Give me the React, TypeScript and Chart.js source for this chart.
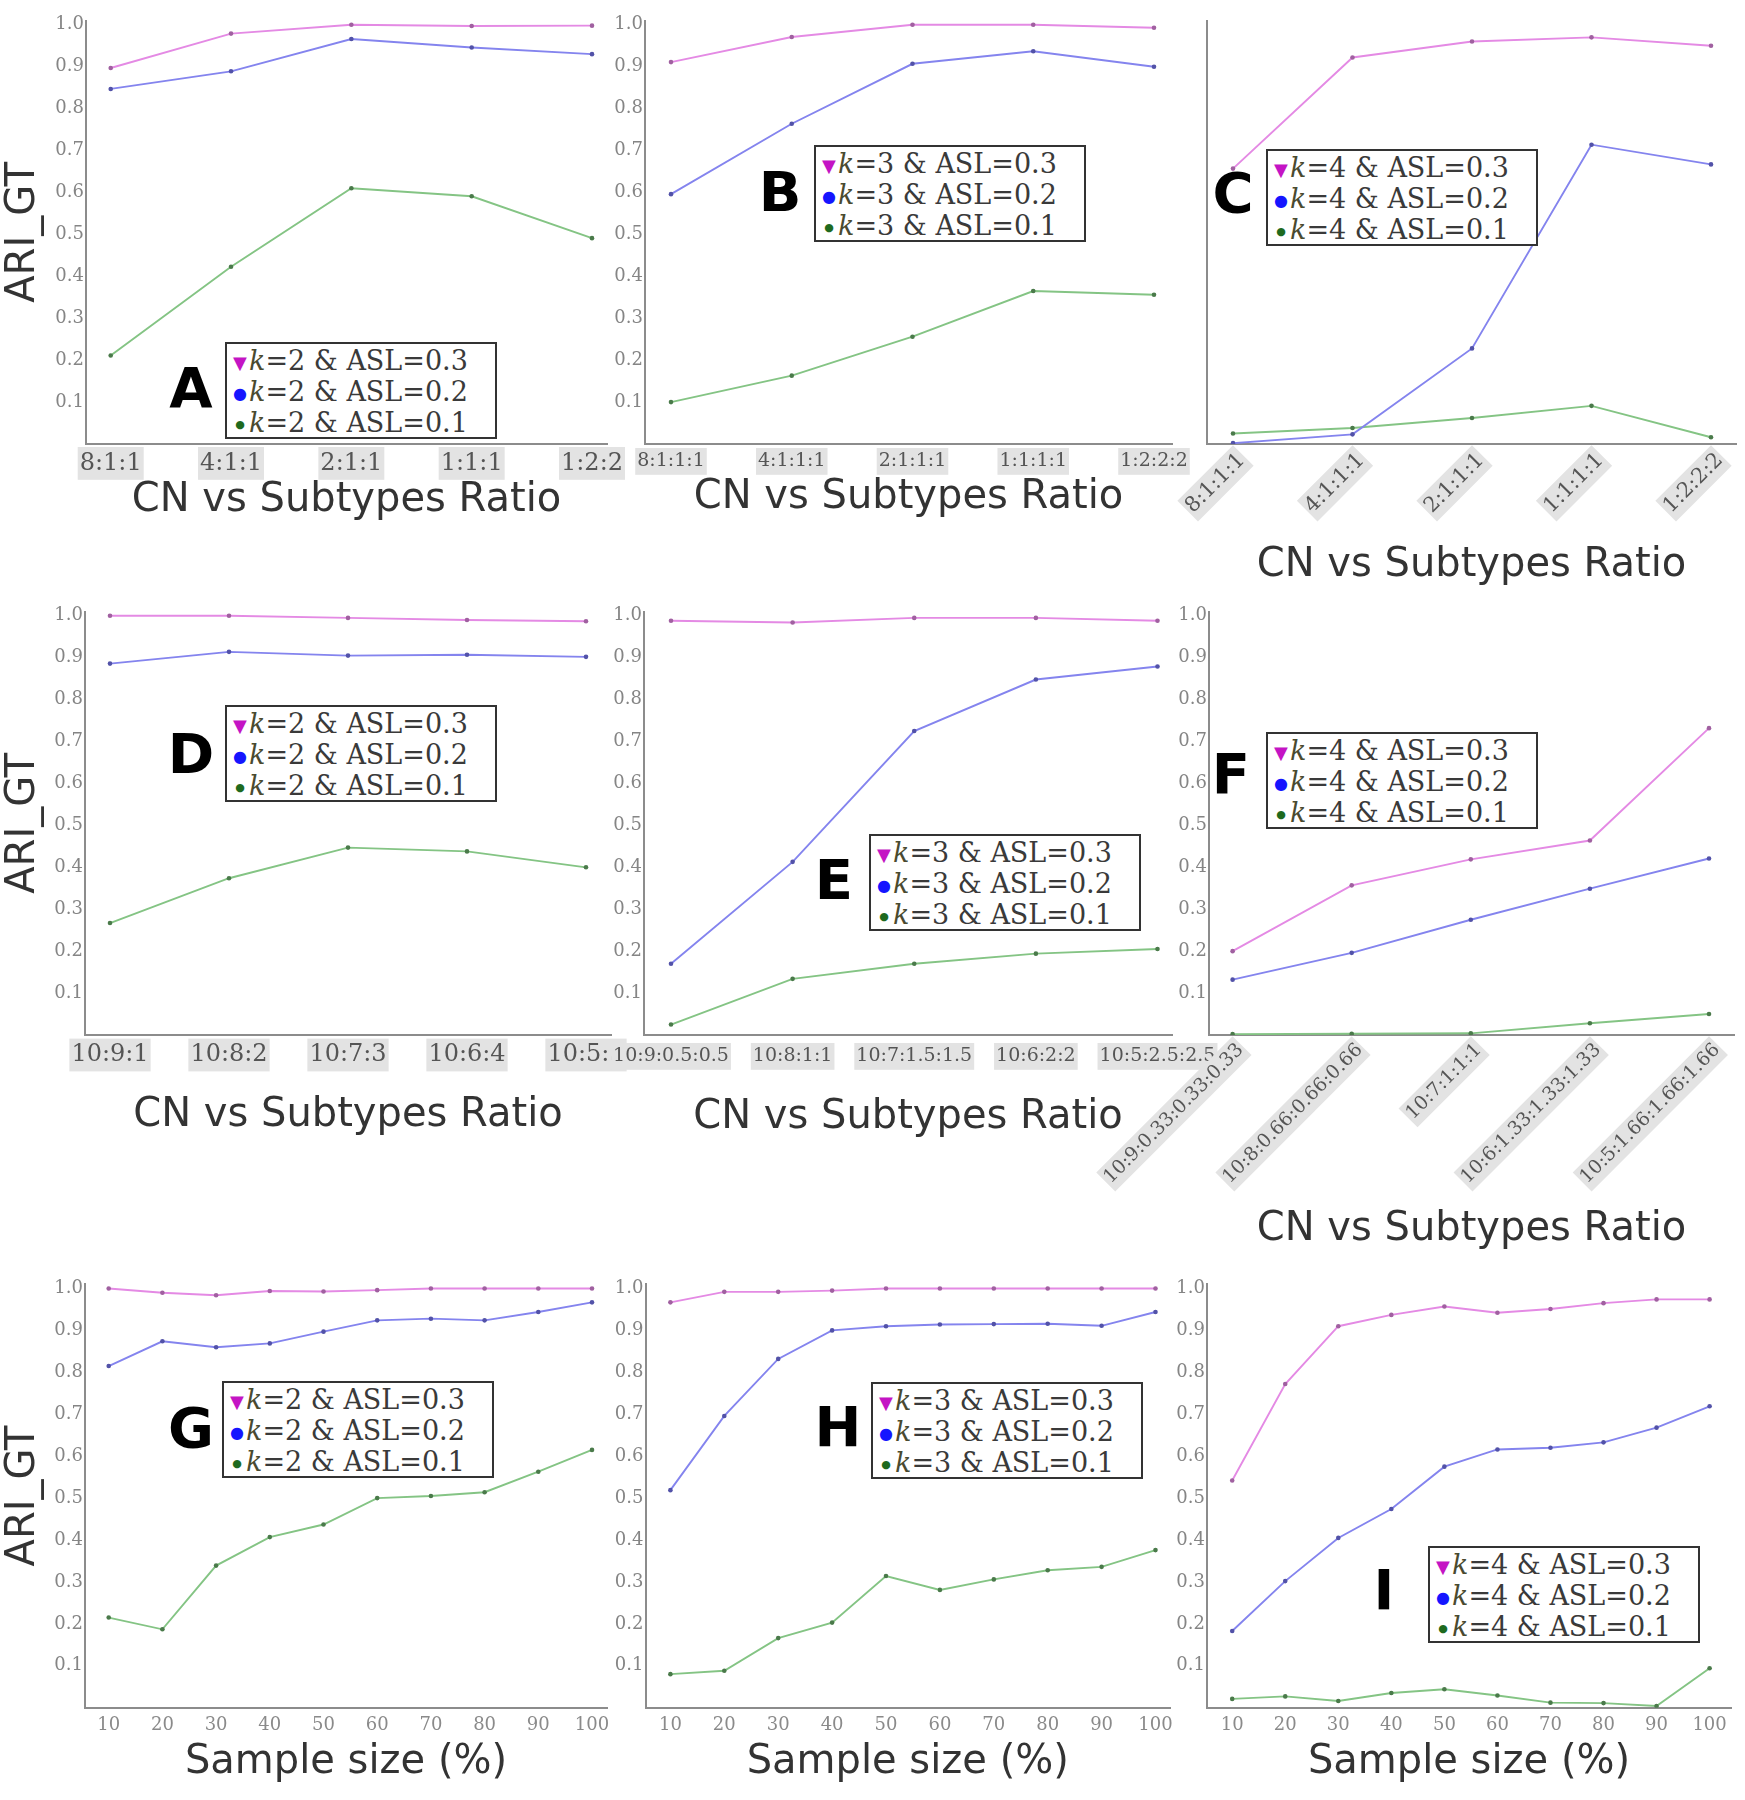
import React, { useEffect, useRef } from 'react';
import { Chart, registerables } from 'chart.js';

Chart.register(...registerables);

// ---------------- data ----------------
const ratioLabelsA = ['8:1:1', '4:1:1', '2:1:1', '1:1:1', '1:2:2'];
const ratioLabelsBC = ['8:1:1:1', '4:1:1:1', '2:1:1:1', '1:1:1:1', '1:2:2:2'];
const ratioLabelsD = ['10:9:1', '10:8:2', '10:7:3', '10:6:4', '10:5:5'];
const ratioLabelsE = ['10:9:0.5:0.5', '10:8:1:1', '10:7:1.5:1.5', '10:6:2:2', '10:5:2.5:2.5'];
const ratioLabelsF = ['10:9:0.33:0.33:0.33', '10:8:0.66:0.66:0.66', '10:7:1:1:1', '10:6:1.33:1.33:1.33', '10:5:1.66:1.66:1.66'];
const sampleSizes = [10, 20, 30, 40, 50, 60, 70, 80, 90, 100];
const yTickValues = [0.1, 0.2, 0.3, 0.4, 0.5, 0.6, 0.7, 0.8, 0.9, 1.0];
const aslLevels = ['0.3', '0.2', '0.1'];

const aAsl3 = [0.897, 0.979, 1.0, 0.997, 0.998];
const aAsl2 = [0.847, 0.889, 0.966, 0.946, 0.93];
const aAsl1 = [0.211, 0.423, 0.61, 0.591, 0.491];

const bAsl3 = [0.911, 0.971, 1.0, 1.0, 0.993];
const bAsl2 = [0.596, 0.764, 0.907, 0.937, 0.9];
const bAsl1 = [0.1, 0.163, 0.256, 0.365, 0.356];

const cAsl3 = [0.657, 0.922, 0.96, 0.97, 0.95];
const cAsl2 = [0.002, 0.023, 0.228, 0.714, 0.667];
const cAsl1 = [0.025, 0.038, 0.062, 0.091, 0.016];

const dAsl3 = [1.0, 1.0, 0.995, 0.99, 0.987];
const dAsl2 = [0.886, 0.914, 0.905, 0.907, 0.902];
const dAsl1 = [0.267, 0.374, 0.447, 0.438, 0.4];

const eAsl3 = [0.988, 0.984, 0.995, 0.995, 0.988];
const eAsl2 = [0.17, 0.413, 0.725, 0.848, 0.879];
const eAsl1 = [0.025, 0.134, 0.17, 0.194, 0.205];

const fAsl3 = [0.2, 0.357, 0.419, 0.464, 0.732];
const fAsl2 = [0.132, 0.196, 0.275, 0.349, 0.421];
const fAsl1 = [0.002, 0.003, 0.004, 0.028, 0.05];

const gAsl3 = [1.0, 0.99, 0.984, 0.994, 0.993, 0.996, 1.0, 1.0, 1.0, 1.0];
const gAsl2 = [0.815, 0.874, 0.86, 0.869, 0.897, 0.924, 0.928, 0.924, 0.944, 0.967];
const gAsl1 = [0.215, 0.187, 0.339, 0.407, 0.437, 0.5, 0.505, 0.514, 0.563, 0.615];

const hAsl3 = [0.967, 0.992, 0.992, 0.995, 1.0, 1.0, 1.0, 1.0, 1.0, 1.0];
const hAsl2 = [0.519, 0.696, 0.832, 0.9, 0.91, 0.914, 0.915, 0.916, 0.911, 0.944];
const hAsl1 = [0.08, 0.088, 0.166, 0.203, 0.314, 0.281, 0.306, 0.328, 0.336, 0.376];

const iAsl3 = [0.542, 0.772, 0.91, 0.937, 0.957, 0.942, 0.951, 0.965, 0.974, 0.974];
const iAsl2 = [0.183, 0.302, 0.405, 0.474, 0.575, 0.616, 0.62, 0.633, 0.668, 0.719];
const iAsl1 = [0.021, 0.027, 0.016, 0.035, 0.044, 0.029, 0.012, 0.011, 0.004, 0.094];

// ---------------- styles ----------------
const lineColors = ['#e48ae4', '#8484ee', '#84c484'];
const pointColors = ['#a060a0', '#5252a8', '#4a7a4a'];
const markerColors = ['#c414c4', '#1515ff', '#1e6a1e'];
const markerGlyphs = ['\u25BC', '\u25CF', '\u25CF'];
const markerSizes = [18, 16, 11];
const axisColor = '#8c8c8c';
const ratioTitle = 'CN vs Subtypes Ratio';
const sampleTitle = 'Sample size (%)';
const titleSize = 40;

type Panel = {
  letter: string;
  k: number;
  labels: string[] | null;
  series: number[][];
  box: { x: number; y: number; w: number; h: number };
  area: { left: number; right: number; top: number; bottom: number };
  firstPx: number;
  lastPx: number;
  tickFont: number;
  tickPad: number;
  rotate: number;
  backdrop: boolean;
  yTitle: boolean;
  yTicks: boolean;
  xTitle: string;
  letterPos: { x: number; y: number };
  legendPos: { x: number; y: number };
};

const panels: Panel[] = [
  {
    letter: 'A', k: 2, labels: ratioLabelsA, series: [aAsl3, aAsl2, aAsl1],
    box: { x: 0, y: 0, w: 640, h: 525 }, area: { left: 86, right: 607, top: 20.6, bottom: 444 },
    firstPx: 110.7, lastPx: 592, tickFont: 24, tickPad: 5, rotate: 0, backdrop: true,
    yTitle: true, yTicks: true, xTitle: ratioTitle,
    letterPos: { x: 191, y: 392 }, legendPos: { x: 225, y: 342 },
  },
  {
    letter: 'B', k: 3, labels: ratioLabelsBC, series: [bAsl3, bAsl2, bAsl1],
    box: { x: 560, y: 0, w: 642, h: 522 }, area: { left: 645, right: 1172, top: 20.6, bottom: 444 },
    firstPx: 671, lastPx: 1154, tickFont: 19, tickPad: 6, rotate: 0, backdrop: true,
    yTitle: false, yTicks: true, xTitle: ratioTitle,
    letterPos: { x: 780, y: 196 }, legendPos: { x: 814, y: 145 },
  },
  {
    letter: 'C', k: 4, labels: ratioLabelsBC, series: [cAsl3, cAsl2, cAsl1],
    box: { x: 1130, y: 0, w: 615, h: 590 }, area: { left: 1207, right: 1736, top: 20.6, bottom: 444 },
    firstPx: 1233, lastPx: 1711, tickFont: 21, tickPad: 4, rotate: 45, backdrop: true,
    yTitle: false, yTicks: false, xTitle: ratioTitle,
    letterPos: { x: 1233, y: 197 }, legendPos: { x: 1266, y: 149 },
  },
  {
    letter: 'D', k: 2, labels: ratioLabelsD, series: [dAsl3, dAsl2, dAsl1],
    box: { x: 0, y: 560, w: 644, h: 580 }, area: { left: 85, right: 611, top: 611.6, bottom: 1035 },
    firstPx: 110, lastPx: 586, tickFont: 24, tickPad: 5.6, rotate: 0, backdrop: true,
    yTitle: true, yTicks: true, xTitle: ratioTitle,
    letterPos: { x: 191, y: 758 }, legendPos: { x: 225, y: 705 },
  },
  {
    letter: 'E', k: 3, labels: ratioLabelsE, series: [eAsl3, eAsl2, eAsl1],
    box: { x: 580, y: 560, w: 667, h: 582 }, area: { left: 644, right: 1172, top: 611.6, bottom: 1035 },
    firstPx: 671, lastPx: 1157.5, tickFont: 19, tickPad: 10, rotate: 0, backdrop: true,
    yTitle: false, yTicks: true, xTitle: ratioTitle,
    letterPos: { x: 834, y: 884 }, legendPos: { x: 869, y: 834 },
  },
  {
    letter: 'F', k: 4, labels: ratioLabelsF, series: [fAsl3, fAsl2, fAsl1],
    box: { x: 1060, y: 560, w: 685, h: 694 }, area: { left: 1209, right: 1734, top: 611.6, bottom: 1035 },
    firstPx: 1232.6, lastPx: 1709, tickFont: 19, tickPad: 4, rotate: 45, backdrop: true,
    yTitle: false, yTicks: true, xTitle: ratioTitle,
    letterPos: { x: 1231, y: 778 }, legendPos: { x: 1266, y: 732 },
  },
  {
    letter: 'G', k: 2, labels: null, series: [gAsl3, gAsl2, gAsl1],
    box: { x: 0, y: 1240, w: 640, h: 547 }, area: { left: 85, right: 607, top: 1284.3, bottom: 1707.7 },
    firstPx: 108.7, lastPx: 592, tickFont: 18, tickPad: 6.5, rotate: 0, backdrop: false,
    yTitle: true, yTicks: true, xTitle: sampleTitle,
    letterPos: { x: 191, y: 1432 }, legendPos: { x: 222, y: 1381 },
  },
  {
    letter: 'H', k: 3, labels: null, series: [hAsl3, hAsl2, hAsl1],
    box: { x: 560, y: 1240, w: 640, h: 547 }, area: { left: 645.5, right: 1170, top: 1284.3, bottom: 1707.7 },
    firstPx: 670.4, lastPx: 1155.5, tickFont: 18, tickPad: 6.5, rotate: 0, backdrop: false,
    yTitle: false, yTicks: true, xTitle: sampleTitle,
    letterPos: { x: 838, y: 1431 }, legendPos: { x: 871, y: 1382 },
  },
  {
    letter: 'I', k: 4, labels: null, series: [iAsl3, iAsl2, iAsl1],
    box: { x: 1130, y: 1240, w: 615, h: 547 }, area: { left: 1207, right: 1731, top: 1284.3, bottom: 1707.7 },
    firstPx: 1232.2, lastPx: 1709.6, tickFont: 18, tickPad: 6.5, rotate: 0, backdrop: false,
    yTitle: false, yTicks: true, xTitle: sampleTitle,
    letterPos: { x: 1384, y: 1594 }, legendPos: { x: 1428, y: 1546 },
  },
];

function buildConfig(p: Panel): any {
  const xs = p.labels ? p.labels.map((_, i) => i) : sampleSizes;
  const n = xs.length;
  const unit = (p.lastPx - p.firstPx) / (xs[n - 1] - xs[0]);
  const xMin = xs[0] - (p.firstPx - p.area.left) / unit;
  const xMax = xs[n - 1] + (p.area.right - p.lastPx) / unit;
  const yWidth = p.area.left - p.box.x;
  const xHeight = p.box.y + p.box.h - p.area.bottom;
  const padTop = p.area.top - p.box.y;
  const padRight = p.box.x + p.box.w - p.area.right;

  const datasets = p.series.map((vals, si) => ({
    label: `k=${p.k} & ASL=${aslLevels[si]}`,
    data: vals.map((v, i) => ({ x: xs[i], y: v })),
    borderColor: lineColors[si],
    borderWidth: 1.9,
    pointRadius: 2.3,
    pointBorderWidth: 0,
    pointBackgroundColor: pointColors[si],
    fill: false,
    tension: 0,
  }));

  return {
    type: 'line',
    data: { datasets },
    options: {
      animation: false,
      responsive: false,
      maintainAspectRatio: false,
      devicePixelRatio: 1,
      layout: { padding: { left: 0, top: padTop, right: padRight, bottom: 0 } },
      plugins: { legend: { display: false }, tooltip: { enabled: false } },
      scales: {
        x: {
          type: 'linear',
          bounds: 'data',
          min: xMin,
          max: xMax,
          afterBuildTicks: (s: any) => {
            s.ticks = xs.map((v) => ({ value: v }));
          },
          afterFit: (s: any) => {
            s.height = xHeight;
          },
          grid: { display: false, drawTicks: false },
          border: { display: true, color: axisColor, width: 2 },
          ticks: {
            autoSkip: false,
            maxRotation: p.rotate,
            minRotation: p.rotate,
            padding: p.tickPad,
            color: p.backdrop ? '#555' : '#8a8a8a',
            font: { family: '"DejaVu Serif", serif', size: p.tickFont },
            showLabelBackdrop: p.backdrop,
            backdropColor: '#e3e3e3',
            backdropPadding: 2,
            callback: (v: any) => (p.labels ? p.labels[Math.round(Number(v))] : String(v)),
          },
          title: {
            display: true,
            text: p.xTitle,
            color: '#333',
            font: { family: '"DejaVu Sans", sans-serif', size: titleSize },
            padding: 0,
          },
        },
        y: {
          type: 'linear',
          bounds: 'data',
          min: 0,
          max: 1.01,
          afterBuildTicks: (s: any) => {
            s.ticks = yTickValues.map((v) => ({ value: v }));
          },
          afterFit: (s: any) => {
            s.width = yWidth;
          },
          grid: { display: false, drawTicks: false },
          border: { display: true, color: axisColor, width: 2 },
          ticks: {
            display: p.yTicks,
            padding: 2,
            color: '#858585',
            font: { family: '"DejaVu Serif", serif', size: 18 },
            callback: (v: any) => Number(v).toFixed(1),
          },
          title: {
            display: p.yTitle,
            text: 'ARI_GT',
            color: '#333',
            font: { family: '"DejaVu Sans", sans-serif', size: titleSize },
            padding: 0,
          },
        },
      },
    },
  };
}

function PanelChart({ p }: { p: Panel }) {
  const ref = useRef<HTMLCanvasElement | null>(null);
  useEffect(() => {
    if (!ref.current) return;
    const chart = new Chart(ref.current, buildConfig(p));
    return () => chart.destroy();
  }, [p]);
  return (
    <canvas
      ref={ref}
      width={p.box.w}
      height={p.box.h}
      style={{ position: 'absolute', left: p.box.x, top: p.box.y, width: p.box.w, height: p.box.h }}
    />
  );
}

function Legend({ p }: { p: Panel }) {
  return (
    <div
      style={{
        position: 'absolute',
        left: p.legendPos.x,
        top: p.legendPos.y,
        width: 272,
        height: 97,
        boxSizing: 'border-box',
        border: '2px solid #333',
        background: '#fff',
        padding: '1px 0 0 4px',
        fontFamily: '"DejaVu Serif", serif',
        fontSize: 27,
        lineHeight: '31px',
        color: '#3a3a3a',
        whiteSpace: 'nowrap',
        overflow: 'hidden',
      }}
    >
      {aslLevels.map((a, i) => (
        <div key={a} style={{ height: 31 }}>
          <span
            style={{
              display: 'inline-block',
              width: 18,
              textAlign: 'center',
              color: markerColors[i],
              fontFamily: '"DejaVu Sans", sans-serif',
              fontSize: markerSizes[i],
              verticalAlign: 'middle',
              lineHeight: '31px',
            }}
          >
            {markerGlyphs[i]}
          </span>
          <i style={{ color: '#4a4a30' }}>k</i>
          {`=${p.k} & ASL=${a}`}
        </div>
      ))}
    </div>
  );
}

function Letter({ p }: { p: Panel }) {
  return (
    <div
      style={{
        position: 'absolute',
        left: p.letterPos.x,
        top: p.letterPos.y,
        transform: 'translate(-50%, -57%)',
        fontFamily: '"DejaVu Sans", sans-serif',
        fontWeight: 'bold',
        fontSize: 56,
        lineHeight: '56px',
        color: '#000',
      }}
    >
      {p.letter}
    </div>
  );
}

export default function App() {
  return (
    <div
      style={{
        position: 'absolute',
        left: 0,
        top: 0,
        width: 1745,
        height: 1800,
        background: '#fff',
        overflow: 'hidden',
      }}
    >
      {panels.map((p) => (
        <PanelChart key={p.letter} p={p} />
      ))}
      {panels.map((p) => (
        <Legend key={'lg' + p.letter} p={p} />
      ))}
      {panels.map((p) => (
        <Letter key={'lt' + p.letter} p={p} />
      ))}
    </div>
  );
}
